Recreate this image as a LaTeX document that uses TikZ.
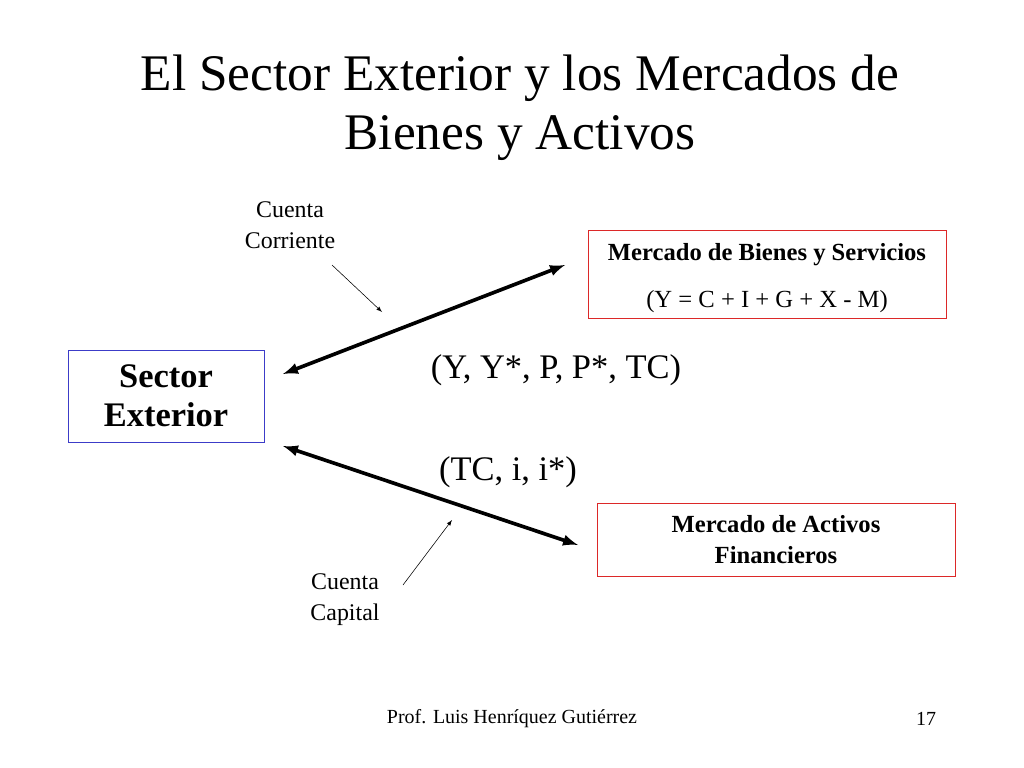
\documentclass[tikz,border=0pt]{standalone}
\usepackage{fontspec}
\setmainfont{Liberation Serif}
\usetikzlibrary{positioning}
\definecolor{boxblue}{RGB}{60,60,200}
\definecolor{boxred}{RGB}{220,40,40}
\begin{document}
\begin{tikzpicture}[x=0.025cm,y=-0.025cm]
    \tikzset{
        redbox/.style={draw=boxred, fill=white, align=center, font=\fontsize{17.5}{22}\selectfont},
        bigarrow/.style={<->, >=latex, line width=2.6pt},
        thinarrow/.style={->, >=latex, thin},
        smalllabel/.style={align=center, font=\fontsize{17}{22}\selectfont}
    }
    \useasboundingbox (0,0) rectangle (1024,768);
    \node[align=center, font=\fontsize{36.5}{42}\selectfont] (title) at (520,108)
        {El Sector Exterior y los Mercados de\\Bienes y Activos};
    \node[draw=boxblue, minimum width=196*0.025cm, minimum height=92*0.025cm,
          align=center, font=\bfseries\fontsize{24.5}{28}\selectfont] (sector) at (166,396) {Sector\\Exterior};
    \node[draw=boxred, minimum width=358*0.025cm, minimum height=88*0.025cm] (bienes) at (767,274) {};
    \node[redbox, draw=none, fill=none] (bienestxt) at (767,278)
        {\textbf{Mercado de Bienes y Servicios}\\[11pt](Y = C + I + G + X - M)};
    \node[redbox, minimum width=358*0.025cm, minimum height=73*0.025cm] (activos) at (776,540)
        {\textbf{Mercado de Activos}\\\textbf{Financieros}};
    \coordinate (s1) at (283,374);
    \coordinate (b1) at (565,265);
    \coordinate (s2) at (283,446);
    \coordinate (a1) at (578,545);
    \draw[bigarrow] (s1) -- (b1);
    \draw[bigarrow] (s2) -- (a1);
    \node[font=\fontsize{24.5}{28}\selectfont] (vars1) at (556,370) {(Y, Y*, P, P*, TC)};
    \node[font=\fontsize{24.5}{28}\selectfont] (vars2) at (508,472) {(TC, i, i*)};
    \node[smalllabel] (cc) at (290,225) {Cuenta\\Corriente};
    \node[smalllabel] (ck) at (345,600) {Cuenta\\Capital};
    \coordinate (cc1) at (332,265);
    \coordinate (cc2) at (382,312);
    \coordinate (ck1) at (403,585);
    \coordinate (ck2) at (452,520);
    \draw[thinarrow] (cc1) -- (cc2);
    \draw[thinarrow] (ck1) -- (ck2);
    \node[font=\fontsize{14.2}{16}\selectfont] (author) at (512,719) {Prof. Luis Henríquez Gutiérrez};
    \node[font=\fontsize{14.2}{16}\selectfont] (page) at (926,719) {17};
\end{tikzpicture}
\end{document}
